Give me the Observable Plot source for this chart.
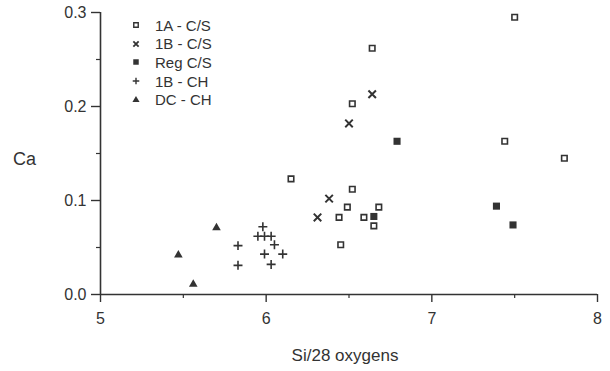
<!DOCTYPE html>
<html><head><meta charset="utf-8">
<script src="https://cdn.jsdelivr.net/npm/d3@7"></script>
<script src="https://cdn.jsdelivr.net/npm/@observablehq/plot@0.6"></script>
<style>
body{margin:0;background:#fff;font-family:"Liberation Sans",Arial,Helvetica,sans-serif;}
#wrap{position:relative;width:610px;height:371px;}
#legend{position:absolute;left:128px;top:16px;font-size:15px;color:#333;}
#legend .row{display:flex;align-items:center;height:18.6px;}
#legend svg{width:16px;height:16px;margin-right:11px;}
#ylab{position:absolute;left:13px;top:148px;font-size:18px;line-height:22px;color:#333;}
#xlab{position:absolute;left:245px;width:200px;top:345px;text-align:center;font-size:17px;line-height:22px;color:#333;}
</style></head><body><div id="wrap"><div id="legend"></div><div id="ylab">Ca</div><div id="xlab"></div></div>
<script>
const seriesNames = ["1A - C/S","1B - C/S","Reg C/S","1B - CH","DC - CH"];
// 1A - C/S (open squares)
const x1A = [7.50,6.64,6.52,7.44,7.80,6.15,6.52,6.49,6.68,6.44,6.59,6.65,6.45];
const y1A = [0.295,0.262,0.203,0.163,0.145,0.123,0.112,0.093,0.093,0.082,0.082,0.073,0.053];
// 1B - C/S (crosses)
const x1B = [6.64,6.50,6.38,6.31];
const y1B = [0.213,0.182,0.102,0.082];
// Reg C/S (filled squares)
const xReg = [6.79,6.65,7.39,7.49];
const yReg = [0.163,0.083,0.094,0.074];
// 1B - CH (plus)
const x1BCH = [5.98,5.95,5.99,6.03,6.05,5.83,5.99,6.10,5.83,6.03];
const y1BCH = [0.072,0.062,0.062,0.062,0.053,0.052,0.043,0.043,0.031,0.032];
// DC - CH (triangles)
const xDC = [5.70,5.47,5.56];
const yDC = [0.071,0.042,0.011];

const xDomain = [5, 8];
const yDomain = [0, 0.3];
const xMajor = [5, 6, 7, 8];
const xMinor = [5.5, 6.5, 7.5];
const yMajor = [0, 0.1, 0.2, 0.3];
const yMinor = [0.05, 0.15, 0.25];
const xLabel = "Si/28 oxygens";
const yLabel = "Ca";

const ink = "#333";
const pts = (xs, ys) => xs.map((x, i) => ({x, y: ys[i]}));

const chart = Plot.plot({
  width: 610, height: 371,
  marginLeft: 100, marginRight: 13, marginTop: 12, marginBottom: 77,
  style: {fontFamily: '"Liberation Sans", Arial, sans-serif', fontSize: "16px", color: ink, background: "#fff"},
  x: {domain: xDomain},
  y: {domain: yDomain},
  marks: [
    Plot.ruleX([xDomain[0]], {y1: yDomain[0], y2: yDomain[1], stroke: ink, strokeWidth: 1.6}),
    Plot.ruleY([yDomain[0]], {x1: xDomain[0], x2: xDomain[1], stroke: ink, strokeWidth: 1.6}),
    Plot.axisX({ticks: xMajor, tickSize: 8, tickPadding: 10, tickFormat: d3.format("d"), fontSize: 16, label: null, stroke: ink, strokeWidth: 1.4}),
    Plot.axisX({ticks: xMinor, tickSize: 4, tickFormat: () => "", label: null, stroke: ink, strokeWidth: 1.2}),
    Plot.axisY({ticks: yMajor, tickSize: 9, tickPadding: 5, tickFormat: d3.format(".1f"), fontSize: 16, label: null, stroke: ink, strokeWidth: 1.4}),
    Plot.axisY({ticks: yMinor, tickSize: 4, tickFormat: () => "", label: null, stroke: ink, strokeWidth: 1.2}),
    Plot.dot(pts(x1A, y1A), {x: "x", y: "y", symbol: "square", r: 3.1, fill: "white", stroke: ink, strokeWidth: 1.6}),
    Plot.dot(pts(x1B, y1B), {x: "x", y: "y", symbol: "times", r: 3.5, stroke: ink, strokeWidth: 2}),
    Plot.dot(pts(xReg, yReg), {x: "x", y: "y", symbol: "square", r: 4, fill: ink, stroke: "none"}),
    Plot.dot(pts(x1BCH, y1BCH), {x: "x", y: "y", symbol: "plus", r: 3, stroke: ink, strokeWidth: 1.6}),
    Plot.dot(pts(xDC, yDC), {x: "x", y: "y", symbol: "triangle", r: 3.2, fill: ink, stroke: "none"})
  ]
});
document.getElementById("wrap").prepend(chart);
document.getElementById("xlab").textContent = xLabel;
document.getElementById("ylab").textContent = yLabel;

// legend
const legendStyles = [
  {sym: d3.symbolSquare, size: 20, fill: "white", stroke: ink, sw: 1.4},
  {sym: d3.symbolTimes, size: 20, fill: "none", stroke: ink, sw: 1.8},
  {sym: d3.symbolSquare, size: 30, fill: ink, stroke: "none", sw: 0},
  {sym: d3.symbolPlus, size: 16, fill: "none", stroke: ink, sw: 1.4},
  {sym: d3.symbolTriangle, size: 22, fill: ink, stroke: "none", sw: 0}
];
const leg = d3.select("#legend");
seriesNames.forEach((name, i) => {
  const s = legendStyles[i];
  const row = leg.append("div").attr("class", "row");
  const svg = row.append("svg").attr("viewBox", "-8 -8 16 16");
  svg.append("path").attr("d", d3.symbol(s.sym, s.size)()).attr("fill", s.fill).attr("stroke", s.stroke).attr("stroke-width", s.sw);
  row.append("span").text(name);
});
</script>
</body></html>
